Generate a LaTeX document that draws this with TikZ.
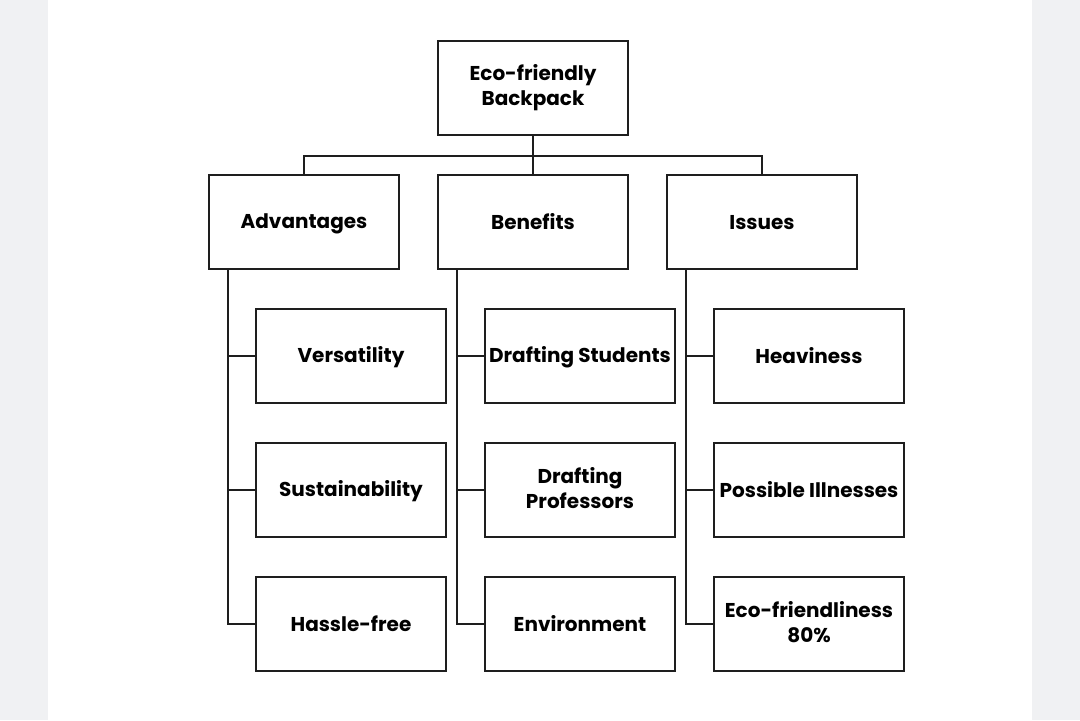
\documentclass[tikz,border=0pt]{standalone}
\usepackage{fontspec}
\setsansfont{Poppins}
\usepackage{tikz}
\usetikzlibrary{positioning}
\definecolor{pagegray}{RGB}{240,241,243}
\definecolor{boxline}{RGB}{30,30,30}
\newcommand{\boxstrut}{\rule[-2pt]{0pt}{11pt}}

\begin{document}
\begin{tikzpicture}[x=0.5pt, y=-0.5pt,
  box/.style={draw=boxline, line width=0.8pt, minimum width=95pt, minimum height=47pt,
              align=center, inner sep=1pt,
              font=\sffamily\bfseries\fontsize{10}{12.5}\selectfont,
              execute at begin node=\boxstrut, execute at end node=\boxstrut},
  link/.style={draw=boxline, line width=0.8pt}]
% Page
\fill[pagegray] (0,0) rectangle (1080,720);
\fill[white] (48,0) rectangle (1032,720);
\useasboundingbox (0,0) rectangle (1080,720);
% Root and first level
\node[box] (root) at (533,88) {Eco-friendly\\Backpack};
\node[box] (adv) at (304,222) {Advantages};
\node[box] (ben) at (533,222) {Benefits};
\node[box] (iss) at (762,222) {Issues};
\draw[link] (root.south) -- ++(0,20) coordinate (bus);
\foreach \p in {adv, ben, iss} {
  \draw[link] (bus) -| (\p.north);
}
% Second level
\node[box] (vers) at (351,356) {Versatility};
\node[box] (sust) at (351,490) {Sustainability};
\node[box] (hass) at (351,624) {Hassle-free};
\node[box] (stud) at (580,356) {Drafting Students};
\node[box] (prof) at (580,490) {Drafting\\Professors};
\node[box] (envi) at (580,624) {Environment};
\node[box] (heav) at (809,356) {Heaviness};
\node[box] (ill)  at (809,490) {Possible Illnesses};
\node[box] (ecof) at (809,624) {Eco-friendliness\\80\%};
% Spines
\foreach \p/\c in {adv/vers, adv/sust, adv/hass, ben/stud, ben/prof, ben/envi,
                   iss/heav, iss/ill, iss/ecof} {
  \draw[link] ([xshift=10pt]\p.south west) |- (\c.west);
}
\end{tikzpicture}
\end{document}
